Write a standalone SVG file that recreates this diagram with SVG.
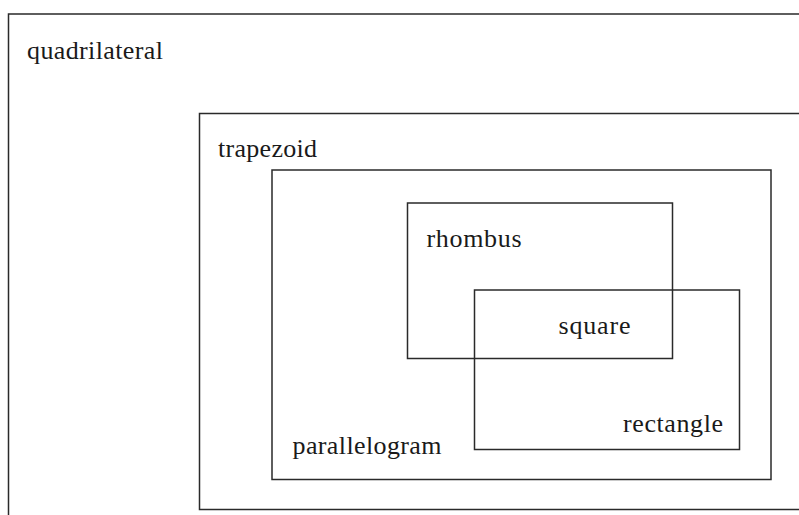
<svg xmlns="http://www.w3.org/2000/svg" width="799" height="515" viewBox="0 0 799 515">
<style>
.box{fill:none;stroke:#2a2a2a;stroke-width:1.5}
.lbl{font-family:"Liberation Serif","DejaVu Serif",serif;font-size:26px;fill:#1a1a1a}
</style>
<rect width="799" height="515" fill="#ffffff"/>
<g id="quadrilateral">
<rect class="box" x="8.5" y="14" width="820" height="540"/>
<text class="lbl" x="27" y="59" textLength="136" lengthAdjust="spacing">quadrilateral</text>
</g>
<g id="trapezoid">
<rect class="box" x="199.5" y="113.5" width="640" height="396"/>
<text class="lbl" x="218" y="157" textLength="99" lengthAdjust="spacing">trapezoid</text>
</g>
<g id="parallelogram">
<rect class="box" x="272" y="170" width="499" height="309.5"/>
<text class="lbl" x="292.5" y="453.5" textLength="149" lengthAdjust="spacing">parallelogram</text>
</g>
<g id="rhombus">
<rect class="box" x="407.5" y="203" width="265" height="155.5"/>
<text class="lbl" x="426.5" y="247" textLength="95" lengthAdjust="spacing">rhombus</text>
</g>
<g id="rectangle">
<rect class="box" x="474.5" y="290" width="265" height="159.5"/>
<text class="lbl" x="623" y="432" textLength="100" lengthAdjust="spacing">rectangle</text>
</g>
<g id="square">
<text class="lbl" x="558.5" y="334" textLength="72" lengthAdjust="spacing">square</text>
</g>
</svg>
